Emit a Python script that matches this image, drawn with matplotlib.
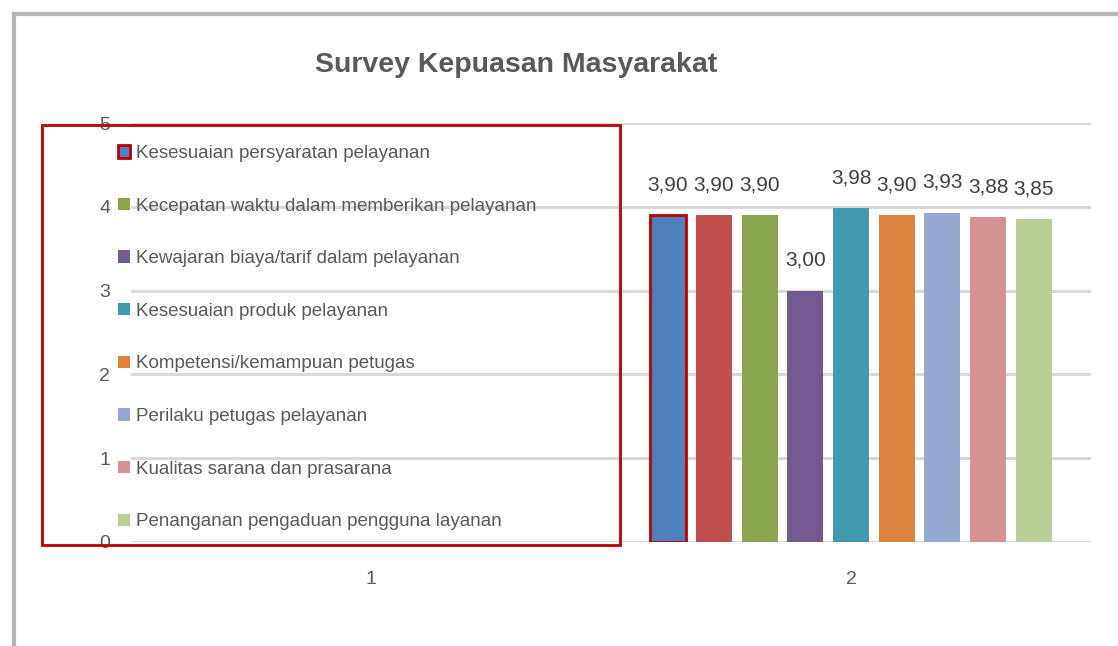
import numpy as np
import matplotlib
matplotlib.use("Agg")
import matplotlib.pyplot as plt
from matplotlib.patches import Rectangle
from matplotlib.lines import Line2D

plt.rcParams['font.family'] = ['Liberation Sans', 'DejaVu Sans']

judul = "Survey Kepuasan Masyarakat"
kategori = [1, 2]
nama_seri = ["Kesesuaian persyaratan pelayanan",
             "",
             "Kecepatan waktu dalam memberikan pelayanan",
             "Kewajaran biaya/tarif dalam pelayanan",
             "Kesesuaian produk pelayanan",
             "Kompetensi/kemampuan petugas",
             "Perilaku petugas pelayanan",
             "Kualitas sarana dan prasarana",
             "Penanganan pengaduan pengguna layanan"]
nilai = [3.90, 3.90, 3.90, 3.00, 3.98, 3.90, 3.93, 3.88, 3.85]
warna = ["#4E80BC", "#C0504D", "#8AA64E", "#72598F", "#4399B0",
         "#DC843F", "#95A9D0", "#D49293", "#BACF95"]

fig = plt.figure(figsize=(11.18, 6.46), dpi=100)
ax = fig.add_axes([131/1118, 1-542/646, 960/1118, 419/646])

langkah = 0.0953
lebar = 0.075
batang = []
for i, v in enumerate(nilai):
    x = kategori[1] + (i - 4) * langkah
    tepi = "#C00000" if i == 0 else warna[i]
    lw = 2 if i == 0 else 0
    b = ax.bar(x, v, width=lebar, color=warna[i], edgecolor=tepi, linewidth=lw,
               label=nama_seri[i], zorder=3)
    batang.append(b)
    ax.text(x, v + 0.36, ("%.2f" % v).replace(".", ","), ha="center", va="center",
            fontsize=15, color="#404040", zorder=4)

ax.set_xlim(0.5, 2.5)
ax.set_ylim(0, 5)
ax.set_xticks(kategori)
ax.set_yticks(range(6))
ax.tick_params(axis="both", length=0, labelsize=14, labelcolor="#595959")
ax.tick_params(axis="y", pad=15)
ax.tick_params(axis="x", pad=21)
ax.grid(axis="y", color="#D9D9D9", linewidth=2.2, zorder=0)
for s in ax.spines.values():
    s.set_visible(False)
ax.set_facecolor("none")

fig.text(516/1118, 1-65/646, judul, ha="center", va="center", fontsize=20.5,
         fontweight="bold", color="#595959")

handles = [batang[i] for i in range(len(nilai)) if i != 1]
labels = [nama_seri[i] for i in range(len(nilai)) if i != 1]
leg = ax.legend(handles, labels, loc="upper left",
                bbox_to_anchor=(118/1118, 1-145/646), bbox_transform=fig.transFigure,
                frameon=False, fontsize=13.5, labelspacing=1.9, borderpad=0,
                borderaxespad=0, handlelength=0.64, handleheight=0.64,
                handletextpad=0.3)
for t in leg.get_texts():
    t.set_color("#595959")

fig.patches.append(Rectangle((42/1118, 1-545/646), 578/1118, 420/646, fill=False,
                             edgecolor="#C00000", linewidth=2,
                             transform=fig.transFigure, figure=fig))
fig.lines.append(Line2D([14/1118, 1], [1-14/646, 1-14/646], color="#B5B5B5",
                        linewidth=3, transform=fig.transFigure, figure=fig))
fig.lines.append(Line2D([14/1118, 14/1118], [0, 1-14/646], color="#B5B5B5",
                        linewidth=3, transform=fig.transFigure, figure=fig))

fig.savefig("out.png", dpi=100)
